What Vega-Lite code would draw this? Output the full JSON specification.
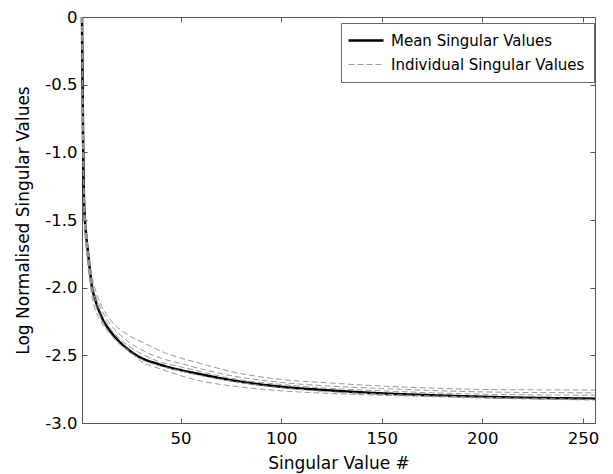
{
  "$schema": "https://vega.github.io/schema/vega-lite/v6.json",
  "autosize": {"type": "none"},
  "padding": {"left": 82, "top": 17, "right": 18, "bottom": 51},
  "width": 513,
  "height": 406,
  "background": "white",
  "config": {
    "font": "DejaVu Sans",
    "view": {"stroke": null},
    "axis": {
      "grid": false,
      "domainColor": "#555555",
      "tickColor": "#555555",
      "tickSize": -5,
      "labelColor": "#000000",
      "titleColor": "#000000",
      "labelFont": "DejaVu Sans",
      "titleFont": "DejaVu Sans",
      "labelFontSize": 16.5,
      "titleFontSize": 17,
      "titleFontWeight": "normal",
      "labelFlush": false,
      "labelOverlap": false
    },
    "legend": {
      "labelLimit": 0,
      "title": null,
      "orient": "none",
      "legendX": 259,
      "legendY": 6,
      "padding": 9,
      "strokeColor": "#666666",
      "fillColor": "#ffffff",
      "labelFont": "DejaVu Sans",
      "labelFontSize": 15,
      "labelColor": "#000000",
      "symbolType": "M-2.5,0H2.5",
      "symbolSize": 196,
      "symbolOffset": 7.5,
      "labelOffset": 16.5,
      "rowPadding": 8
    }
  },
  "data": {
    "values": [
      {"run": "M", "kind": "Mean Singular Values", "x": 1, "y": 0},
      {"run": "M", "kind": "Mean Singular Values", "x": 2, "y": -1.35},
      {"run": "M", "kind": "Mean Singular Values", "x": 3, "y": -1.6},
      {"run": "M", "kind": "Mean Singular Values", "x": 4, "y": -1.74},
      {"run": "M", "kind": "Mean Singular Values", "x": 5, "y": -1.88},
      {"run": "M", "kind": "Mean Singular Values", "x": 6, "y": -2.0},
      {"run": "M", "kind": "Mean Singular Values", "x": 7, "y": -2.06},
      {"run": "M", "kind": "Mean Singular Values", "x": 8, "y": -2.11},
      {"run": "M", "kind": "Mean Singular Values", "x": 9, "y": -2.155},
      {"run": "M", "kind": "Mean Singular Values", "x": 10, "y": -2.19},
      {"run": "M", "kind": "Mean Singular Values", "x": 12, "y": -2.255},
      {"run": "M", "kind": "Mean Singular Values", "x": 14, "y": -2.3},
      {"run": "M", "kind": "Mean Singular Values", "x": 16, "y": -2.34},
      {"run": "M", "kind": "Mean Singular Values", "x": 19, "y": -2.39},
      {"run": "M", "kind": "Mean Singular Values", "x": 23, "y": -2.445},
      {"run": "M", "kind": "Mean Singular Values", "x": 27, "y": -2.49},
      {"run": "M", "kind": "Mean Singular Values", "x": 32, "y": -2.53},
      {"run": "M", "kind": "Mean Singular Values", "x": 38, "y": -2.56},
      {"run": "M", "kind": "Mean Singular Values", "x": 44, "y": -2.587},
      {"run": "M", "kind": "Mean Singular Values", "x": 50, "y": -2.609},
      {"run": "M", "kind": "Mean Singular Values", "x": 60, "y": -2.64},
      {"run": "M", "kind": "Mean Singular Values", "x": 75, "y": -2.683},
      {"run": "M", "kind": "Mean Singular Values", "x": 87, "y": -2.71},
      {"run": "M", "kind": "Mean Singular Values", "x": 100, "y": -2.732},
      {"run": "M", "kind": "Mean Singular Values", "x": 125, "y": -2.76},
      {"run": "M", "kind": "Mean Singular Values", "x": 150, "y": -2.781},
      {"run": "M", "kind": "Mean Singular Values", "x": 175, "y": -2.795},
      {"run": "M", "kind": "Mean Singular Values", "x": 200, "y": -2.806},
      {"run": "M", "kind": "Mean Singular Values", "x": 225, "y": -2.814},
      {"run": "M", "kind": "Mean Singular Values", "x": 256, "y": -2.82},

      {"run": "I1", "kind": "Individual Singular Values", "x": 1, "y": 0},
      {"run": "I1", "kind": "Individual Singular Values", "x": 2, "y": -1.3},
      {"run": "I1", "kind": "Individual Singular Values", "x": 3, "y": -1.55},
      {"run": "I1", "kind": "Individual Singular Values", "x": 4, "y": -1.7},
      {"run": "I1", "kind": "Individual Singular Values", "x": 5, "y": -1.82},
      {"run": "I1", "kind": "Individual Singular Values", "x": 6, "y": -1.92},
      {"run": "I1", "kind": "Individual Singular Values", "x": 8, "y": -2.03},
      {"run": "I1", "kind": "Individual Singular Values", "x": 10, "y": -2.11},
      {"run": "I1", "kind": "Individual Singular Values", "x": 12, "y": -2.17},
      {"run": "I1", "kind": "Individual Singular Values", "x": 14, "y": -2.215},
      {"run": "I1", "kind": "Individual Singular Values", "x": 17, "y": -2.27},
      {"run": "I1", "kind": "Individual Singular Values", "x": 20, "y": -2.31},
      {"run": "I1", "kind": "Individual Singular Values", "x": 25, "y": -2.36},
      {"run": "I1", "kind": "Individual Singular Values", "x": 32, "y": -2.41},
      {"run": "I1", "kind": "Individual Singular Values", "x": 42, "y": -2.48},
      {"run": "I1", "kind": "Individual Singular Values", "x": 50, "y": -2.52},
      {"run": "I1", "kind": "Individual Singular Values", "x": 60, "y": -2.56},
      {"run": "I1", "kind": "Individual Singular Values", "x": 75, "y": -2.62},
      {"run": "I1", "kind": "Individual Singular Values", "x": 100, "y": -2.678},
      {"run": "I1", "kind": "Individual Singular Values", "x": 125, "y": -2.705},
      {"run": "I1", "kind": "Individual Singular Values", "x": 150, "y": -2.727},
      {"run": "I1", "kind": "Individual Singular Values", "x": 175, "y": -2.742},
      {"run": "I1", "kind": "Individual Singular Values", "x": 200, "y": -2.752},
      {"run": "I1", "kind": "Individual Singular Values", "x": 225, "y": -2.755},
      {"run": "I1", "kind": "Individual Singular Values", "x": 256, "y": -2.757},

      {"run": "I2", "kind": "Individual Singular Values", "x": 1, "y": 0},
      {"run": "I2", "kind": "Individual Singular Values", "x": 2, "y": -1.35},
      {"run": "I2", "kind": "Individual Singular Values", "x": 3, "y": -1.58},
      {"run": "I2", "kind": "Individual Singular Values", "x": 4, "y": -1.73},
      {"run": "I2", "kind": "Individual Singular Values", "x": 5, "y": -1.86},
      {"run": "I2", "kind": "Individual Singular Values", "x": 6, "y": -1.96},
      {"run": "I2", "kind": "Individual Singular Values", "x": 8, "y": -2.07},
      {"run": "I2", "kind": "Individual Singular Values", "x": 10, "y": -2.14},
      {"run": "I2", "kind": "Individual Singular Values", "x": 12, "y": -2.2},
      {"run": "I2", "kind": "Individual Singular Values", "x": 15, "y": -2.27},
      {"run": "I2", "kind": "Individual Singular Values", "x": 20, "y": -2.35},
      {"run": "I2", "kind": "Individual Singular Values", "x": 25, "y": -2.41},
      {"run": "I2", "kind": "Individual Singular Values", "x": 32, "y": -2.47},
      {"run": "I2", "kind": "Individual Singular Values", "x": 40, "y": -2.52},
      {"run": "I2", "kind": "Individual Singular Values", "x": 50, "y": -2.56},
      {"run": "I2", "kind": "Individual Singular Values", "x": 60, "y": -2.6},
      {"run": "I2", "kind": "Individual Singular Values", "x": 75, "y": -2.65},
      {"run": "I2", "kind": "Individual Singular Values", "x": 100, "y": -2.7},
      {"run": "I2", "kind": "Individual Singular Values", "x": 125, "y": -2.728},
      {"run": "I2", "kind": "Individual Singular Values", "x": 150, "y": -2.745},
      {"run": "I2", "kind": "Individual Singular Values", "x": 175, "y": -2.76},
      {"run": "I2", "kind": "Individual Singular Values", "x": 200, "y": -2.77},
      {"run": "I2", "kind": "Individual Singular Values", "x": 225, "y": -2.775},
      {"run": "I2", "kind": "Individual Singular Values", "x": 256, "y": -2.777},

      {"run": "I3", "kind": "Individual Singular Values", "x": 1, "y": 0},
      {"run": "I3", "kind": "Individual Singular Values", "x": 2, "y": -1.4},
      {"run": "I3", "kind": "Individual Singular Values", "x": 3, "y": -1.62},
      {"run": "I3", "kind": "Individual Singular Values", "x": 4, "y": -1.77},
      {"run": "I3", "kind": "Individual Singular Values", "x": 5, "y": -1.9},
      {"run": "I3", "kind": "Individual Singular Values", "x": 6, "y": -2.0},
      {"run": "I3", "kind": "Individual Singular Values", "x": 8, "y": -2.1},
      {"run": "I3", "kind": "Individual Singular Values", "x": 10, "y": -2.17},
      {"run": "I3", "kind": "Individual Singular Values", "x": 12, "y": -2.23},
      {"run": "I3", "kind": "Individual Singular Values", "x": 15, "y": -2.3},
      {"run": "I3", "kind": "Individual Singular Values", "x": 20, "y": -2.38},
      {"run": "I3", "kind": "Individual Singular Values", "x": 25, "y": -2.44},
      {"run": "I3", "kind": "Individual Singular Values", "x": 32, "y": -2.5},
      {"run": "I3", "kind": "Individual Singular Values", "x": 40, "y": -2.55},
      {"run": "I3", "kind": "Individual Singular Values", "x": 50, "y": -2.585},
      {"run": "I3", "kind": "Individual Singular Values", "x": 60, "y": -2.62},
      {"run": "I3", "kind": "Individual Singular Values", "x": 75, "y": -2.67},
      {"run": "I3", "kind": "Individual Singular Values", "x": 100, "y": -2.715},
      {"run": "I3", "kind": "Individual Singular Values", "x": 125, "y": -2.745},
      {"run": "I3", "kind": "Individual Singular Values", "x": 150, "y": -2.762},
      {"run": "I3", "kind": "Individual Singular Values", "x": 175, "y": -2.777},
      {"run": "I3", "kind": "Individual Singular Values", "x": 200, "y": -2.787},
      {"run": "I3", "kind": "Individual Singular Values", "x": 225, "y": -2.792},
      {"run": "I3", "kind": "Individual Singular Values", "x": 256, "y": -2.795},

      {"run": "I4", "kind": "Individual Singular Values", "x": 1, "y": 0},
      {"run": "I4", "kind": "Individual Singular Values", "x": 2, "y": -1.42},
      {"run": "I4", "kind": "Individual Singular Values", "x": 3, "y": -1.66},
      {"run": "I4", "kind": "Individual Singular Values", "x": 4, "y": -1.8},
      {"run": "I4", "kind": "Individual Singular Values", "x": 5, "y": -1.93},
      {"run": "I4", "kind": "Individual Singular Values", "x": 6, "y": -2.03},
      {"run": "I4", "kind": "Individual Singular Values", "x": 8, "y": -2.14},
      {"run": "I4", "kind": "Individual Singular Values", "x": 10, "y": -2.21},
      {"run": "I4", "kind": "Individual Singular Values", "x": 12, "y": -2.27},
      {"run": "I4", "kind": "Individual Singular Values", "x": 15, "y": -2.34},
      {"run": "I4", "kind": "Individual Singular Values", "x": 20, "y": -2.42},
      {"run": "I4", "kind": "Individual Singular Values", "x": 25, "y": -2.48},
      {"run": "I4", "kind": "Individual Singular Values", "x": 32, "y": -2.54},
      {"run": "I4", "kind": "Individual Singular Values", "x": 40, "y": -2.58},
      {"run": "I4", "kind": "Individual Singular Values", "x": 50, "y": -2.615},
      {"run": "I4", "kind": "Individual Singular Values", "x": 60, "y": -2.65},
      {"run": "I4", "kind": "Individual Singular Values", "x": 75, "y": -2.69},
      {"run": "I4", "kind": "Individual Singular Values", "x": 100, "y": -2.74},
      {"run": "I4", "kind": "Individual Singular Values", "x": 125, "y": -2.77},
      {"run": "I4", "kind": "Individual Singular Values", "x": 150, "y": -2.787},
      {"run": "I4", "kind": "Individual Singular Values", "x": 175, "y": -2.8},
      {"run": "I4", "kind": "Individual Singular Values", "x": 200, "y": -2.81},
      {"run": "I4", "kind": "Individual Singular Values", "x": 225, "y": -2.818},
      {"run": "I4", "kind": "Individual Singular Values", "x": 256, "y": -2.825},

      {"run": "I5", "kind": "Individual Singular Values", "x": 1, "y": 0},
      {"run": "I5", "kind": "Individual Singular Values", "x": 2, "y": -1.45},
      {"run": "I5", "kind": "Individual Singular Values", "x": 3, "y": -1.7},
      {"run": "I5", "kind": "Individual Singular Values", "x": 4, "y": -1.85},
      {"run": "I5", "kind": "Individual Singular Values", "x": 5, "y": -1.97},
      {"run": "I5", "kind": "Individual Singular Values", "x": 6, "y": -2.07},
      {"run": "I5", "kind": "Individual Singular Values", "x": 8, "y": -2.18},
      {"run": "I5", "kind": "Individual Singular Values", "x": 10, "y": -2.24},
      {"run": "I5", "kind": "Individual Singular Values", "x": 12, "y": -2.29},
      {"run": "I5", "kind": "Individual Singular Values", "x": 15, "y": -2.34},
      {"run": "I5", "kind": "Individual Singular Values", "x": 20, "y": -2.42},
      {"run": "I5", "kind": "Individual Singular Values", "x": 24, "y": -2.46},
      {"run": "I5", "kind": "Individual Singular Values", "x": 30, "y": -2.54},
      {"run": "I5", "kind": "Individual Singular Values", "x": 40, "y": -2.6},
      {"run": "I5", "kind": "Individual Singular Values", "x": 50, "y": -2.65},
      {"run": "I5", "kind": "Individual Singular Values", "x": 60, "y": -2.69},
      {"run": "I5", "kind": "Individual Singular Values", "x": 75, "y": -2.725},
      {"run": "I5", "kind": "Individual Singular Values", "x": 100, "y": -2.762},
      {"run": "I5", "kind": "Individual Singular Values", "x": 125, "y": -2.782},
      {"run": "I5", "kind": "Individual Singular Values", "x": 150, "y": -2.795},
      {"run": "I5", "kind": "Individual Singular Values", "x": 175, "y": -2.805},
      {"run": "I5", "kind": "Individual Singular Values", "x": 200, "y": -2.815},
      {"run": "I5", "kind": "Individual Singular Values", "x": 225, "y": -2.823},
      {"run": "I5", "kind": "Individual Singular Values", "x": 256, "y": -2.83}
    ]
  },
  "resolve": {"axis": {"x": "independent", "y": "independent"}},
  "layer": [
    {
      "mark": {"type": "line", "interpolate": "monotone"},
      "encoding": {
        "x": {
          "field": "x", "type": "quantitative",
          "scale": {"domain": [1, 256], "nice": false, "zero": false},
          "axis": {"values": [50, 100, 150, 200, 250], "title": "Singular Value #", "labelPadding": 12, "titlePadding": 9}
        },
        "y": {
          "field": "y", "type": "quantitative",
          "scale": {"domain": [-3, 0], "nice": false, "zero": false},
          "axis": {
            "values": [0, -0.5, -1, -1.5, -2, -2.5, -3],
            "labelExpr": "datum.value == 0 ? '0' : '-' + format(-datum.value, '.1f')",
            "title": "Log Normalised Singular Values",
            "labelPadding": 10,
            "titlePadding": 12
          }
        },
        "detail": {"field": "run"},
        "color": {
          "field": "kind", "type": "nominal",
          "scale": {"domain": ["Mean Singular Values", "Individual Singular Values"], "range": ["#000000", "#999999"]}
        },
        "strokeDash": {
          "field": "kind", "type": "nominal",
          "scale": {"domain": ["Mean Singular Values", "Individual Singular Values"], "range": [[1, 0], [6, 3]]}
        },
        "strokeWidth": {
          "field": "kind", "type": "nominal",
          "scale": {"domain": ["Mean Singular Values", "Individual Singular Values"], "range": [2.5, 1]}
        }
      }
    },
    {
      "mark": {"type": "point", "opacity": 0},
      "encoding": {
        "x": {
          "field": "x", "type": "quantitative",
          "axis": {"orient": "top", "values": [50, 100, 150, 200, 250], "labels": false, "title": null}
        },
        "y": {
          "field": "y", "type": "quantitative",
          "axis": {"orient": "right", "values": [0, -0.5, -1, -1.5, -2, -2.5, -3], "labels": false, "title": null}
        }
      }
    }
  ]
}
